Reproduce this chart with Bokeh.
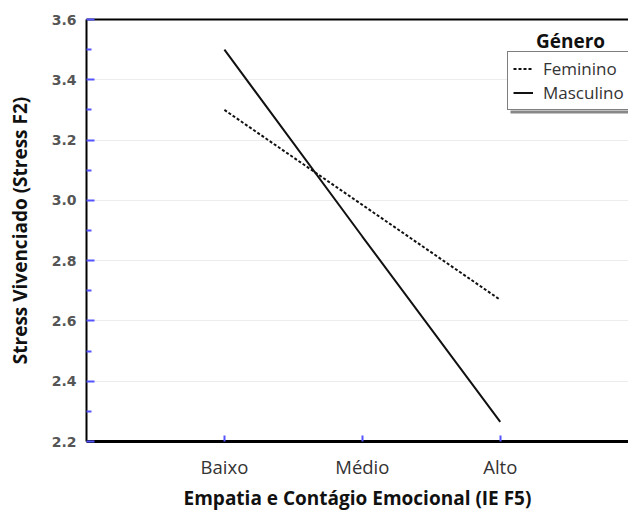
from bokeh.plotting import figure
from bokeh.models import (FixedTicker, Legend, LegendItem, Label, Range1d, BoxAnnotation, LinearAxis)
from bokeh.embed import file_html
from bokeh.resources import INLINE

categories = ["Baixo", "Médio", "Alto"]
feminino = [3.30, 2.985, 2.67]
masculino = [3.50, 2.88, 2.265]
y_ticks = [2.2, 2.4, 2.6, 2.8, 3.0, 3.2, 3.4, 3.6]
y_minor = [2.3, 2.5, 2.7, 2.9, 3.1, 3.3, 3.5]

xs = list(range(1, len(categories) + 1))

p = figure(width=628, height=513, output_backend="svg", toolbar_location=None,
           x_range=Range1d(0, 3.93), y_range=Range1d(2.2, 3.6),
           min_border_left=86, min_border_right=0, min_border_top=19,
           min_border_bottom=72)
p.background_fill_color = "white"
p.border_fill_color = "white"
p.outline_line_color = None

xa = p.below[0]
ya = p.left[0]

# grid
p.xgrid.visible = False
p.ygrid.ticker = FixedTicker(ticks=y_ticks)
p.ygrid.grid_line_color = "#ececec"
p.ygrid.grid_line_width = 1

# y axis
ya.ticker = FixedTicker(ticks=y_ticks, minor_ticks=y_minor)
ya.major_label_overrides = {t: f"{t:.1f}" for t in y_ticks}
ya.major_tick_in = 8
ya.major_tick_out = 0
ya.minor_tick_in = 5
ya.minor_tick_out = 0
ya.major_tick_line_color = "#5555ff"
ya.minor_tick_line_color = "#5555ff"
ya.major_tick_line_width = 2
ya.minor_tick_line_width = 2
ya.axis_line_color = "black"
ya.axis_line_width = 2
ya.major_label_text_font = "DejaVu Sans"
ya.major_label_text_font_size = "14px"
ya.major_label_text_font_style = "bold"
ya.major_label_text_color = "#555555"
ya.major_label_standoff = 10
ya.axis_label = "Stress Vivenciado (Stress F2)"
ya.axis_label_text_font = "Open Sans"
ya.axis_label_text_font_style = "bold"
ya.axis_label_text_font_size = "19px"
ya.axis_label_text_color = "#111111"
ya.axis_label_standoff = 16

# x axis
xa.ticker = FixedTicker(ticks=xs, minor_ticks=[])
xa.major_label_overrides = {x: c for x, c in zip(xs, categories)}
xa.major_tick_in = 6
xa.major_tick_out = 0
xa.minor_tick_in = 0
xa.minor_tick_out = 0
xa.major_tick_line_color = "#5555ff"
xa.major_tick_line_width = 2
xa.axis_line_color = "black"
xa.axis_line_width = 3
xa.major_label_text_font = "Open Sans"
xa.major_label_text_font_size = "18.5px"
xa.major_label_text_color = "#333333"
xa.major_label_standoff = 12
xa.axis_label = "Empatia e Contágio Emocional (IE F5)"
xa.axis_label_text_font = "Open Sans"
xa.axis_label_text_font_style = "bold"
xa.axis_label_text_font_size = "19px"
xa.axis_label_text_color = "#111111"
xa.axis_label_standoff = 3

# top border line
top_axis = LinearAxis(ticker=FixedTicker(ticks=[], minor_ticks=[]), axis_line_color="black",
                      axis_line_width=2, major_tick_line_color=None,
                      minor_tick_line_color=None, major_tick_out=0, minor_tick_out=0,
                      major_tick_in=0, minor_tick_in=0, major_label_standoff=0,
                      major_label_text_font_size="0px")
p.add_layout(top_axis, "above")

r_f = p.line(xs, feminino, line_color="#111111", line_width=2, line_dash="3 2")
r_m = p.line(xs, masculino, line_color="#111111", line_width=2)

shadow = BoxAnnotation(left=424, right=700, top=331, bottom=328,
                       left_units="screen", right_units="screen",
                       top_units="screen", bottom_units="screen",
                       fill_color="#888888", fill_alpha=1.0, line_color=None)
p.add_layout(shadow)

legend = Legend(items=[LegendItem(label="Feminino", renderers=[r_f]),
                       LegendItem(label="Masculino", renderers=[r_m])],
                location=(421, 331))
legend.border_line_color = "black"
legend.border_line_width = 1
legend.background_fill_color = "white"
legend.background_fill_alpha = 1.0
legend.label_text_font = "Open Sans"
legend.label_text_font_size = "17px"
legend.label_text_color = "#333333"
legend.label_height = 19
legend.glyph_height = 19
legend.glyph_width = 20
legend.label_standoff = 10
legend.spacing = 1
legend.padding = 5
legend.margin = 0
p.add_layout(legend, "center")

title = Label(x=484, y=401, x_units="screen", y_units="screen", text="Género",
              text_font="Open Sans", text_font_style="bold", text_font_size="19px",
              text_color="#111111", text_align="center", text_baseline="middle")
p.add_layout(title)

open("out.html", "w").write(file_html(p, INLINE))
